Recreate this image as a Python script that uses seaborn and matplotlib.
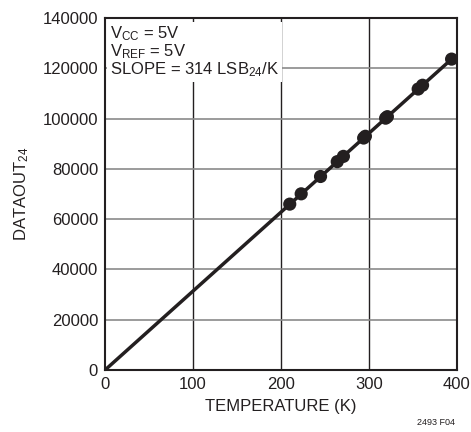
import matplotlib
matplotlib.use('Agg')
import matplotlib.pyplot as plt
import seaborn as sns
import pandas as pd

temps = [210, 223, 245, 264, 271, 294, 296, 319, 321, 356, 361, 394]
dataout = [66000, 70100, 77000, 82900, 85000, 92300, 93000, 100200, 100800, 111800, 113300, 123700]

# fitted line (origin to last point)
line_temp = [0, 394]
line_out = [0, 123700]

x_ticks = [0, 100, 200, 300, 400]
y_ticks = [0, 20000, 40000, 60000, 80000, 100000, 120000, 140000]

sns.set_style('white')
plt.rcParams['font.family'] = ['Liberation Sans', 'DejaVu Sans']
plt.rcParams['mathtext.fontset'] = 'custom'
plt.rcParams['mathtext.rm'] = 'Liberation Sans'
plt.rcParams['mathtext.it'] = 'Liberation Sans'
plt.rcParams['text.color'] = '#231f20'
plt.rcParams['axes.labelcolor'] = '#231f20'
plt.rcParams['xtick.color'] = '#231f20'
plt.rcParams['ytick.color'] = '#231f20'

fig = plt.figure(figsize=(4.71, 4.32), dpi=100)
ax = fig.add_axes([0.223, 0.1435, 0.747, 0.8145])

df = pd.DataFrame({'T': temps, 'D': dataout})
line_df = pd.DataFrame({'T': line_temp, 'D': line_out})

sns.lineplot(data=line_df, x='T', y='D', ax=ax, color='#231f20', lw=2.5, zorder=3)
sns.scatterplot(data=df, x='T', y='D', ax=ax, color='#231f20', s=90, edgecolor='none', zorder=4)

ax.set_xlim(0, 400)
ax.set_ylim(0, 140000)
ax.set_xticks(x_ticks)
ax.set_yticks(y_ticks)
ax.tick_params(length=0, labelsize=12, pad=5)

# grid: vertical darker, horizontal grey
for t in x_ticks[1:-1]:
    ax.axvline(t, color='#231f20', lw=1.0, zorder=1)
for t in y_ticks[1:-1]:
    ax.axhline(t, color='#8a8a8a', lw=1.2, zorder=1)

for s in ax.spines.values():
    s.set_color('#231f20')
    s.set_linewidth(1.5)

ax.set_xlabel('TEMPERATURE (K)', fontsize=12, labelpad=5)
ax.set_ylabel(r'DATAOUT$_{\mathregular{24}}$', fontsize=12, labelpad=8)

ax.text(6, 137500,
        'V$_{\\mathregular{CC}}$ = 5V\nV$_{\\mathregular{REF}}$ = 5V\nSLOPE = 314 LSB$_{\\mathregular{24}}$/K',
        fontsize=12, va='top', ha='left', linespacing=0.95, zorder=5,
        bbox=dict(facecolor='white', edgecolor='none', pad=2))

fig.text(0.965, 0.012, '2493 F04', fontsize=6.5, ha='right', va='bottom')

fig.savefig('out.png', dpi=100)
